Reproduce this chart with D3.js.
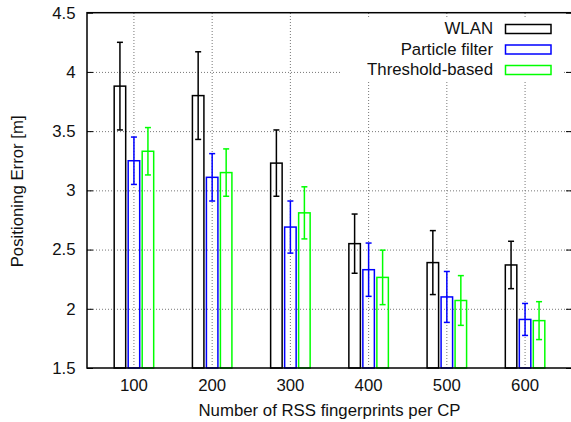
<!DOCTYPE html>
<html>
<head>
<meta charset="utf-8">
<script src="https://cdn.jsdelivr.net/npm/d3@7"></script>
<style>
  body { margin: 0; background: #fff; }
  svg { display: block; font-family: "Liberation Sans", Arial, sans-serif; }
  .grid line { stroke: #777; stroke-width: 1; stroke-dasharray: 1,2; }
  .grid path { display: none; }
  text { fill: #111; }
</style>
</head>
<body>
<script>
// data
var fingerprints = ["100", "200", "300", "400", "500", "600"];
var seriesNames = ["WLAN", "Particle filter", "Threshold-based"];
var seriesColors = ["#000000", "#0000ff", "#00ff00"];

var wlanMean = [3.88, 3.80, 3.23, 2.55, 2.39, 2.37];
var wlanErr  = [0.37, 0.37, 0.28, 0.25, 0.27, 0.20];
var pfMean   = [3.25, 3.11, 2.69, 2.33, 2.10, 1.91];
var pfErr    = [0.20, 0.20, 0.22, 0.225, 0.215, 0.135];
var thrMean  = [3.33, 3.15, 2.81, 2.265, 2.07, 1.90];
var thrErr   = [0.20, 0.20, 0.22, 0.23, 0.21, 0.16];

var yTicks = [1.5, 2, 2.5, 3, 3.5, 4, 4.5];

var means = [wlanMean, pfMean, thrMean];
var errs = [wlanErr, pfErr, thrErr];

var W = 571, H = 422;
var pLeft = 87, pRight = 572, pTop = 12.7, pBottom = 368;
var fs = "16.8px";

var svg = d3.select("body").append("svg")
  .attr("width", W)
  .attr("height", H);

var x = d3.scaleBand()
  .domain(fingerprints)
  .range([pLeft, pRight])
  .paddingInner(0)
  .paddingOuter(0.1);

var xSub = d3.scaleBand()
  .domain(seriesNames)
  .range([-21, 21]);

var y = d3.scaleLinear()
  .domain([1.5, 4.5])
  .range([pBottom, pTop]);

// grid
svg.append("g")
  .attr("class", "grid")
  .attr("transform", "translate(" + pLeft + ",0)")
  .call(d3.axisLeft(y).tickValues([2, 2.5, 3, 3.5, 4]).tickSize(-(pRight - pLeft)).tickFormat(""));

svg.append("g")
  .attr("class", "grid")
  .attr("transform", "translate(0," + pBottom + ")")
  .call(d3.axisBottom(x).tickSize(-(pBottom - pTop)).tickFormat(""));

// white box behind the key
svg.append("rect")
  .attr("x", 342).attr("y", 18)
  .attr("width", 220).attr("height", 62)
  .attr("fill", "#fff");

// bars
var rows = [];
seriesNames.forEach(function(s, si) {
  fingerprints.forEach(function(f, i) {
    rows.push({ series: s, cat: f, mean: means[si][i], err: errs[si][i], color: seriesColors[si] });
  });
});

var bars = svg.append("g").selectAll("g")
  .data(rows)
  .enter()
  .append("g")
  .attr("transform", function(d) {
    return "translate(" + (x(d.cat) + x.bandwidth() / 2 + xSub(d.series) + xSub.bandwidth() / 2) + ",0)";
  });

var bw = xSub.bandwidth() - 2.5;

bars.append("rect")
  .attr("x", -bw / 2)
  .attr("y", function(d) { return y(d.mean); })
  .attr("width", bw)
  .attr("height", function(d) { return pBottom - y(d.mean); })
  .attr("fill", "none")
  .attr("stroke", function(d) { return d.color; })
  .attr("stroke-width", 1.5);

bars.append("line")
  .attr("x1", 0).attr("x2", 0)
  .attr("y1", function(d) { return y(d.mean + d.err); })
  .attr("y2", function(d) { return y(d.mean - d.err); })
  .attr("stroke", function(d) { return d.color; })
  .attr("stroke-width", 1.5);

[1, -1].forEach(function(sign) {
  bars.append("line")
    .attr("x1", -3).attr("x2", 3)
    .attr("y1", function(d) { return y(d.mean + sign * d.err); })
    .attr("y2", function(d) { return y(d.mean + sign * d.err); })
    .attr("stroke", function(d) { return d.color; })
    .attr("stroke-width", 1.5);
});

// axes
var yAxis = svg.append("g")
  .attr("transform", "translate(" + pLeft + ",0)")
  .call(d3.axisLeft(y).tickValues(yTicks).tickSize(-6).tickPadding(11.5).tickFormat(d3.format("")));
yAxis.select(".domain").remove();
yAxis.selectAll("line").attr("stroke", "#000").attr("stroke-width", 1);
yAxis.selectAll("text").attr("font-size", fs).attr("fill", "#111");

var yAxisR = svg.append("g")
  .attr("transform", "translate(" + pRight + ",0)")
  .call(d3.axisRight(y).tickValues(yTicks).tickSize(-6).tickFormat(""));
yAxisR.select(".domain").remove();

var xAxis = svg.append("g")
  .attr("transform", "translate(0," + pBottom + ")")
  .call(d3.axisBottom(x).tickSize(0).tickPadding(11));
xAxis.select(".domain").remove();
xAxis.selectAll("text").attr("font-size", fs).attr("fill", "#111");

// border
svg.append("rect")
  .attr("x", pLeft).attr("y", pTop)
  .attr("width", pRight - pLeft).attr("height", pBottom - pTop)
  .attr("fill", "none")
  .attr("stroke", "#000")
  .attr("stroke-width", 1.5);

// axis labels
svg.append("text")
  .attr("x", (pLeft + pRight) / 2)
  .attr("y", 416)
  .attr("text-anchor", "middle")
  .attr("font-size", fs)
  .text("Number of RSS fingerprints per CP");

svg.append("text")
  .attr("transform", "translate(23," + ((pTop + pBottom) / 2 + 1) + ") rotate(-90)")
  .attr("text-anchor", "middle")
  .attr("font-size", fs)
  .text("Positioning Error [m]");

// key
var key = svg.append("g").selectAll("g")
  .data(seriesNames)
  .enter()
  .append("g")
  .attr("transform", function(d, i) { return "translate(0," + (34 + i * 20.5) + ")"; });

key.append("text")
  .attr("x", 493)
  .attr("text-anchor", "end")
  .attr("font-size", fs)
  .text(function(d) { return d; });

key.append("rect")
  .attr("x", 505.5).attr("y", -9.5)
  .attr("width", 45.5).attr("height", 9)
  .attr("fill", "none")
  .attr("stroke", function(d, i) { return seriesColors[i]; })
  .attr("stroke-width", 1.5);
</script>
</body>
</html>
